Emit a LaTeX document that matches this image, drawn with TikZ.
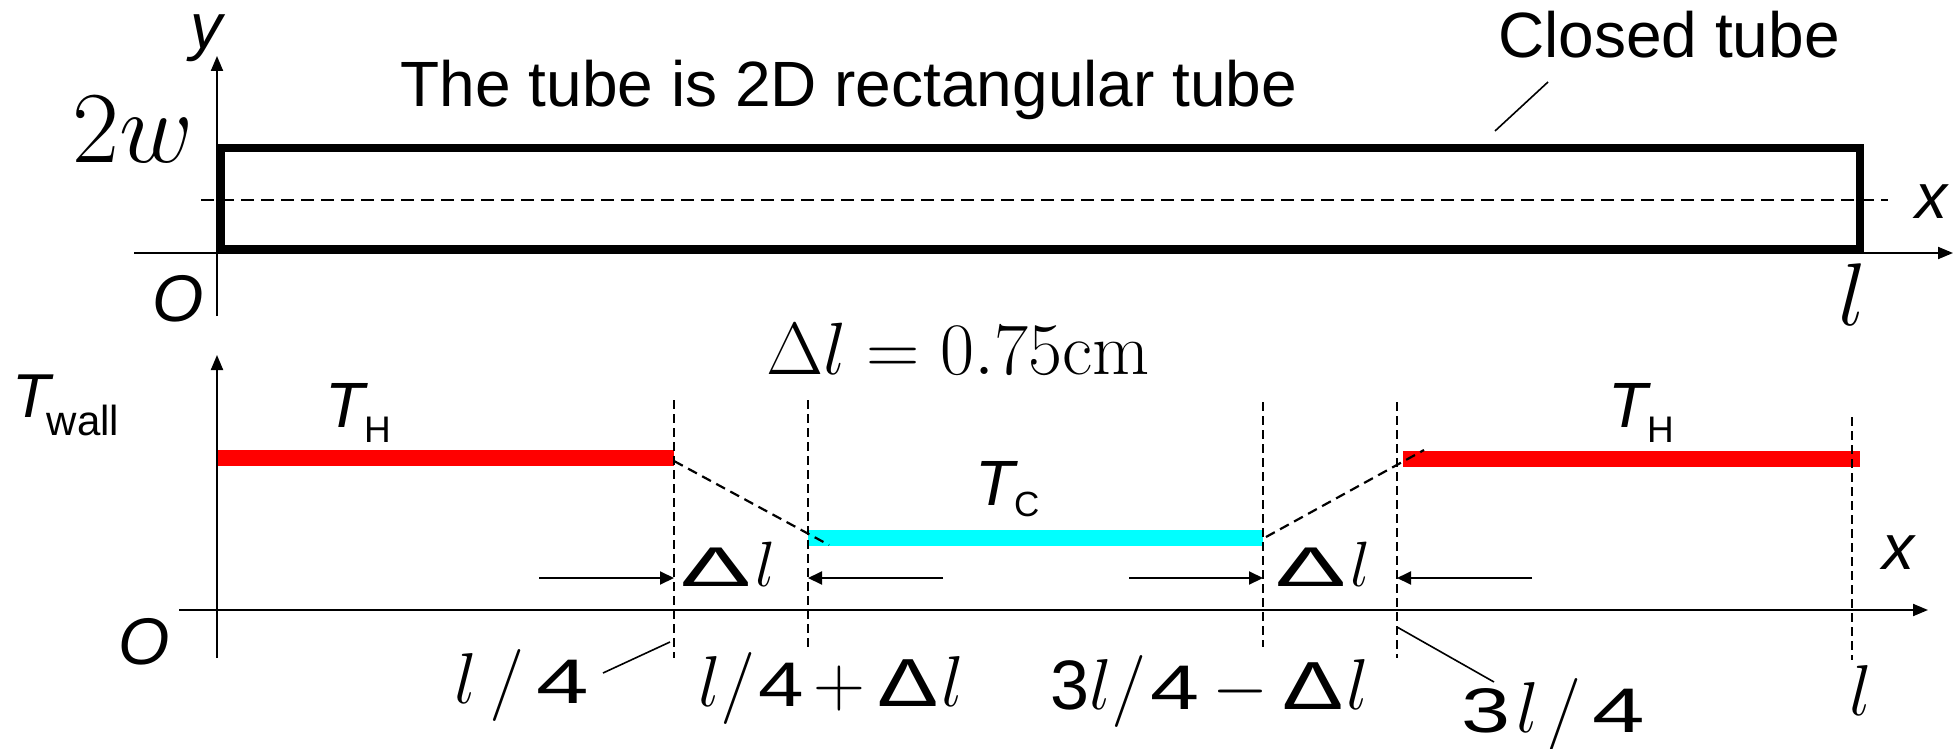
\RequirePackage{fix-cm}
\documentclass[tikz,border=0pt]{standalone}
\usepackage[no-math]{fontspec}
\setmainfont{Liberation Sans}
\usepackage{graphicx}
\usetikzlibrary{arrows.meta}
\definecolor{hotred}{RGB}{255,0,0}
\definecolor{coldcyan}{RGB}{0,255,255}
\newcommand{\fs}[1]{\fontsize{#1}{#1}\selectfont}
\newcommand{\xs}[2]{\scalebox{#1}[1]{#2}}
% stretched sans glyph: #1 = x-stretch, #2 = size, #3 = glyph
\newcommand{\sg}[3]{\xs{#1}{\fs{#2}#3}}
\begin{document}
\begin{tikzpicture}[x=1pt,y=-1pt,
  lbl/.style={inner sep=0pt, font=\fs{64}},
  mlbl/.style={inner sep=0pt, font=\fs{72}, anchor=base west},
  axis/.style={line width=2pt, -{Triangle[length=15pt,width=12pt]}},
  tube/.style={line width=8.5pt},
  midline/.style={line width=1.6pt, dash pattern=on 13pt off 7pt},
  guide/.style={line width=1.6pt, dash pattern=on 9pt off 5pt},
  slope/.style={line width=2.2pt, dash pattern=on 10pt off 6pt},
  hot/.style={line width=16pt, draw=hotred},
  cold/.style={line width=16pt, draw=coldcyan},
  dimarrow/.style={line width=2pt, -{Triangle[length=14pt,width=13pt]}},
  leader/.style={line width=1.6pt}]
\useasboundingbox (0,0) rectangle (1954,749);

% ---------- top: the tube ----------
\coordinate (yAxB) at (217,316);
\coordinate (yAxT) at (217,56);
\coordinate (xAxL) at (134,253);
\coordinate (xAxR) at (1953,253);
\draw[axis] (yAxB) -- (yAxT);
\draw[axis] (xAxL) -- (xAxR);
\coordinate (tubeA) at (221,148);
\coordinate (tubeB) at (1860,249);
\draw[tube] (tubeA) rectangle (tubeB);
\coordinate (midL) at (201,200);
\coordinate (midR) at (1888,200);
\draw[midline] (midL) -- (midR);

\node[lbl, anchor=base] (title) at (849,107) {The tube is 2D rectangular tube};
\node[lbl, anchor=base] (closed) at (1669,58) {Closed tube};
\coordinate (ldA) at (1548,82);
\coordinate (ldB) at (1495,131);
\draw[leader] (ldA) -- (ldB);

\node[lbl, anchor=base, font=\fs{64}\itshape] (ylab) at (206,49) {y};
\node[lbl, anchor=base, font=\fs{102}] (twow) at (133,163) {$2w$};
\node[lbl, font=\fs{66}\itshape] (O1) at (178,299) {O};
\node[lbl, font=\fs{64}\itshape] (x1) at (1931,202) {x};
\node[lbl, anchor=base, font=\fs{89}] (l1) at (1852,325) {$l$};

% ---------- bottom: wall temperature ----------
\coordinate (vB) at (217,658);
\coordinate (vT) at (217,355);
\coordinate (hL) at (179,610);
\coordinate (hR) at (1928,610);
\draw[axis] (vB) -- (vT);
\draw[axis] (hL) -- (hR);

\coordinate (h1a) at (218,458);  \coordinate (h1b) at (674,458);
\coordinate (c1a) at (808,538);  \coordinate (c1b) at (1263,538);
\coordinate (h2a) at (1403,459); \coordinate (h2b) at (1860,459);
\draw[hot] (h1a) -- (h1b);
\draw[cold] (c1a) -- (c1b);
\draw[hot] (h2a) -- (h2b);

\coordinate (g1t) at (674,400);  \coordinate (g1b) at (674,658);
\coordinate (g2t) at (808,400);  \coordinate (g2b) at (808,647);
\coordinate (g3t) at (1263,402); \coordinate (g3b) at (1263,647);
\coordinate (g4t) at (1397,402); \coordinate (g4b) at (1397,658);
\coordinate (g5t) at (1852,417); \coordinate (g5b) at (1852,660);
\draw[guide] (g1t) -- (g1b);
\draw[guide] (g2t) -- (g2b);
\draw[guide] (g3t) -- (g3b);
\draw[guide] (g4t) -- (g4b);
\draw[guide] (g5t) -- (g5b);

\coordinate (s1a) at (674,461);  \coordinate (s1b) at (829,545);
\coordinate (s2a) at (1266,537); \coordinate (s2b) at (1424,450);
\draw[slope] (s1a) -- (s1b);
\draw[slope] (s2a) -- (s2b);

\coordinate (a1s) at (539,578);  \coordinate (a1e) at (674,578);
\coordinate (a2s) at (943,578);  \coordinate (a2e) at (808,578);
\coordinate (a3s) at (1129,578); \coordinate (a3e) at (1263,578);
\coordinate (a4s) at (1532,578); \coordinate (a4e) at (1397,578);
\draw[dimarrow] (a1s) -- (a1e);
\draw[dimarrow] (a2s) -- (a2e);
\draw[dimarrow] (a3s) -- (a3e);
\draw[dimarrow] (a4s) -- (a4e);

\node[lbl, anchor=base west, font=\fs{62}] (Twall) at (12,417) {\textit{T}\kern-7pt\raisebox{-18pt}{\fs{42}wall}};
\node[lbl, anchor=base west, font=\fs{64}] (TH1) at (325,427) {\textit{T}\kern-4pt\raisebox{-15pt}{\fs{37}H}};
\node[lbl, anchor=base west, font=\fs{64}] (TH2) at (1608,427) {\textit{T}\kern-4pt\raisebox{-15pt}{\fs{37}H}};
\node[lbl, anchor=base west, font=\fs{64}] (TC) at (975,505) {\textit{T}\kern-4pt\raisebox{-11pt}{\fs{35}C}};
\node[lbl, font=\fs{66}\itshape] (O2) at (144,642) {O};
\node[lbl, font=\fs{64}\itshape] (x2) at (1898,553) {x};
\node[lbl, anchor=base, font=\fs{74}] (dleq) at (958,374) {$\Delta l = 0.75\mathrm{cm}$};

\node[lbl, anchor=base west, font=\fs{64}] (dl1) at (680,586) {\sg{1.9}{56}{Δ}\kern4pt$l$};
\node[lbl, anchor=base west, font=\fs{64}] (dl2) at (1275,586) {\sg{1.9}{56}{Δ}\kern4pt$l$};

\node[mlbl] (q1) at (454,703) {$l$\kern13pt$/$\kern11pt\sg{1.5}{63}{4}};
\node[mlbl] (q2) at (698,706) {$l/$\kern2pt\sg{1.3}{63}{4}\kern10pt$+$\kern12pt\sg{1.35}{68}{Δ}\kern3pt$l$};
\node[mlbl] (q3) at (1050,709) {\sg{1.0}{70}{3}$l/$\kern4pt\sg{1.4}{63}{4}\kern12pt$-$\kern14pt\sg{1.35}{68}{Δ}\kern3pt$l$};
\node[mlbl] (q4) at (1461,732) {\sg{1.4}{63}{3}\kern6pt$l$\kern8pt$/$\kern10pt\sg{1.5}{63}{4}};
\node[lbl, anchor=base, font=\fs{72}] (lend) at (1861,715) {$l$};

\coordinate (lq1a) at (603,673); \coordinate (lq1b) at (670,642);
\coordinate (lq4a) at (1397,627); \coordinate (lq4b) at (1494,682);
\draw[leader] (lq1a) -- (lq1b);
\draw[leader] (lq4a) -- (lq4b);
\end{tikzpicture}
\end{document}
